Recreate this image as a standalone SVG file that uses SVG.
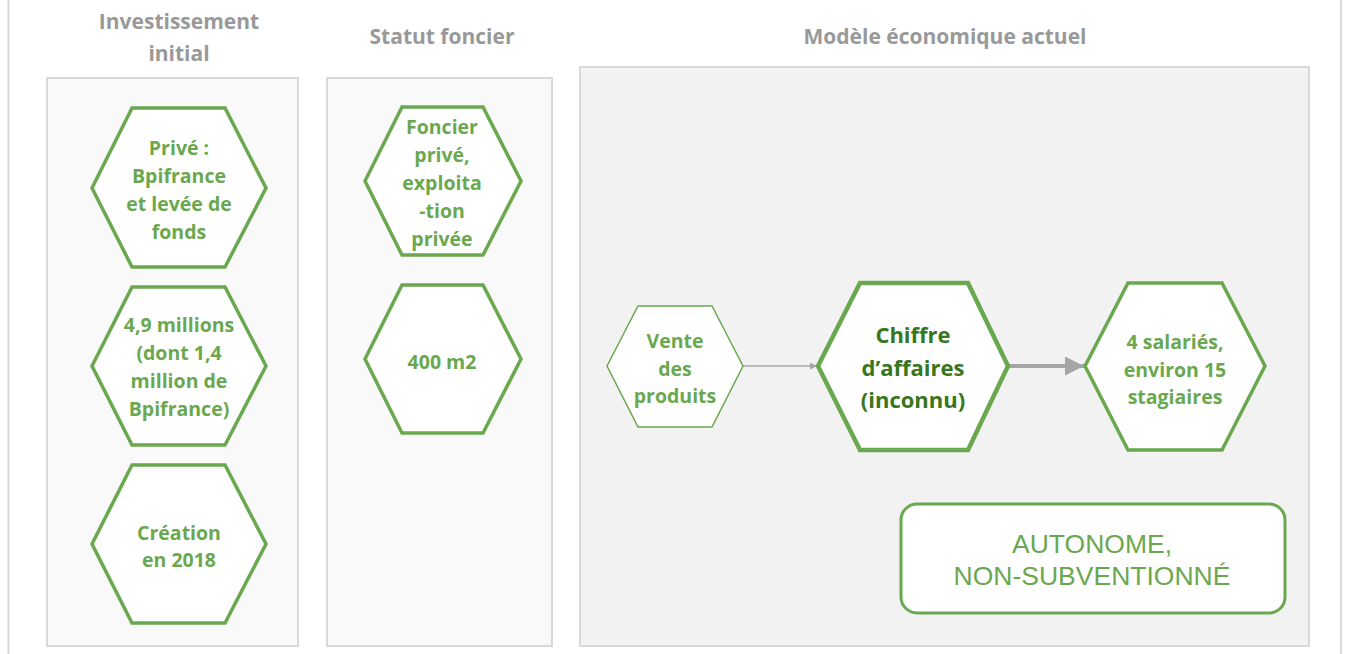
<svg xmlns="http://www.w3.org/2000/svg" width="1346" height="654" viewBox="0 0 1346 654">
<style>
.frame{stroke:#dcd8d4;stroke-width:2;fill:none}
.panel1{fill:#f9f9f9;stroke:#d9d9d9;stroke-width:2}
.panel3{fill:#f2f2f2;stroke:#d9d9d9;stroke-width:2}
.title{font-family:"Open Sans",Lato,sans-serif;font-weight:bold;font-size:21px;fill:#999999;text-anchor:middle}
.hex{fill:#ffffff;stroke:#6aa84f;stroke-width:3.5}
.hexthin{fill:#ffffff;stroke:#6aa84f;stroke-width:1.5}
.hexthick{fill:#ffffff;stroke:#6aa84f;stroke-width:4.5}
.lbl{font-family:"Open Sans",Lato,sans-serif;font-weight:bold;font-size:19.5px;fill:#6aa84f;text-anchor:middle}
.lblbig{font-family:"Open Sans",Lato,sans-serif;font-weight:bold;font-size:22px;fill:#38761d;text-anchor:middle}
.plain{font-family:"Liberation Sans",Arial,sans-serif;font-size:26.5px;fill:#6aa84f;text-anchor:middle}
.conn{stroke:#a6a6a6;fill:none}
</style>
<defs>
<marker id="ah1" viewBox="0 0 10 10" refX="10" refY="5" markerWidth="10" markerHeight="7" markerUnits="userSpaceOnUse" orient="auto"><path d="M0,0 L10,5 L0,10 z" fill="#a6a6a6"/></marker>
<marker id="ah2" viewBox="0 0 10 10" refX="10" refY="5" markerWidth="25" markerHeight="19" markerUnits="userSpaceOnUse" orient="auto"><path d="M0,0 L10,5 L0,10 z" fill="#a6a6a6"/></marker>
</defs>
<rect width="1346" height="654" fill="#ffffff"/>
<line class="frame" x1="8.5" y1="0" x2="8.5" y2="654"/>
<line class="frame" x1="1341" y1="0" x2="1341" y2="654"/>

<g id="panel-investissement">
<rect class="panel1" x="47" y="78" width="251" height="568"/>
<text class="title" x="179" y="29">Investissement</text>
<text class="title" x="179" y="61">initial</text>
</g>
<g id="panel-statut">
<rect class="panel1" x="327" y="78" width="225" height="568"/>
<text class="title" x="442" y="44">Statut foncier</text>
</g>
<g id="panel-modele">
<rect class="panel3" x="580" y="67" width="729" height="579"/>
<text class="title" x="945" y="44">Modèle économique actuel</text>
</g>

<g id="node-prive">
<polygon class="hex" points="92,188 132,108 225,108 266,188 225,267 132,267"/>
<text class="lbl" x="179" y="155">Privé :</text>
<text class="lbl" x="179" y="183">Bpifrance</text>
<text class="lbl" x="179" y="211">et levée de</text>
<text class="lbl" x="179" y="239">fonds</text>
</g>
<g id="node-millions">
<polygon class="hex" points="92,366 132,287 225,287 266,366 225,445 132,445"/>
<text class="lbl" x="179" y="332">4,9 millions</text>
<text class="lbl" x="179" y="360">(dont 1,4</text>
<text class="lbl" x="179" y="388">million de</text>
<text class="lbl" x="179" y="416">Bpifrance)</text>
</g>
<g id="node-creation">
<polygon class="hex" points="92,544 132,465 225,465 266,544 225,623 132,623"/>
<text class="lbl" x="179" y="540">Création</text>
<text class="lbl" x="179" y="567">en 2018</text>
</g>
<g id="node-foncier">
<polygon class="hex" points="365,181 402,107 483,107 521,181 483,255 402,255"/>
<text class="lbl" x="442" y="134">Foncier</text>
<text class="lbl" x="442" y="162">privé,</text>
<text class="lbl" x="442" y="190">exploita</text>
<text class="lbl" x="442" y="218">-tion</text>
<text class="lbl" x="442" y="246">privée</text>
</g>
<g id="node-surface">
<polygon class="hex" points="365,359 402,285 483,285 521,359 483,433 402,433"/>
<text class="lbl" x="442" y="369">400 m2</text>
</g>

<g id="connectors">
<line class="conn" x1="743" y1="366" x2="817" y2="366" stroke-width="1.5" marker-end="url(#ah1)"/>
<line class="conn" x1="1008" y1="366" x2="1084" y2="366" stroke-width="4" marker-end="url(#ah2)"/>
</g>

<g id="node-vente">
<polygon class="hexthin" points="607,366 638,306 712,306 743,366 712,427 638,427"/>
<text class="lbl" x="675" y="348">Vente</text>
<text class="lbl" x="675" y="376">des</text>
<text class="lbl" x="675" y="403">produits</text>
</g>
<g id="node-chiffre">
<polygon class="hexthick" points="818,366 860,283 968,283 1008,366 968,450 860,450"/>
<text class="lblbig" x="913" y="343">Chiffre</text>
<text class="lblbig" x="913" y="376">d’affaires</text>
<text class="lblbig" x="913" y="408">(inconnu)</text>
</g>
<g id="node-salaries">
<polygon class="hex" points="1085,366 1128,283 1222,283 1265,366 1222,450 1128,450"/>
<text class="lbl" x="1175" y="349">4 salariés,</text>
<text class="lbl" x="1175" y="377">environ 15</text>
<text class="lbl" x="1175" y="404">stagiaires</text>
</g>
<g id="node-autonome">
<rect x="901" y="504" width="384" height="109" rx="16" ry="16" fill="#ffffff" stroke="#6aa84f" stroke-width="3"/>
<text class="plain" x="1092" y="553">AUTONOME,</text>
<text class="plain" x="1092" y="585">NON-SUBVENTIONNÉ</text>
</g>
</svg>
